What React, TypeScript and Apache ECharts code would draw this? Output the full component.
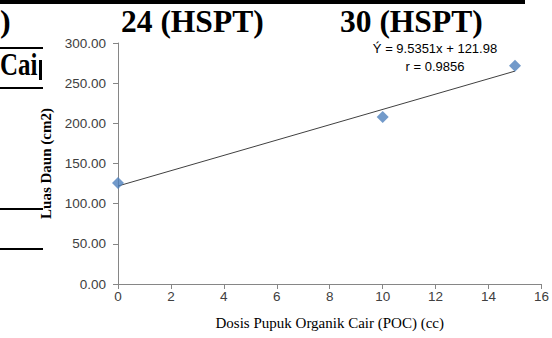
import React, { useEffect, useRef } from "react";
import * as echarts from "echarts";

const doseX = [0, 10, 15];
const leafArea = [125.7, 208, 271.7];
const trendX = [0, 15];
const trendY = [121.98, 265.01];
const equationText = "Ý = 9.5351x + 121.98";
const rText = "r = 0.9856";
const xTitle = "Dosis Pupuk Organik Cair (POC) (cc)";
const yTitle = "Luas Daun (cm2)";
const headA = "24 (HSPT)";
const headB = "30 (HSPT)";

export default function App() {
  const ref = useRef<HTMLDivElement>(null);
  useEffect(() => {
    if (!ref.current) return;
    const chart = echarts.init(ref.current, null, { renderer: "svg" });
    const serif = "'Liberation Serif', 'Times New Roman', serif";
    const sans = "'Liberation Sans', Arial, sans-serif";
    chart.setOption({
      animation: false,
      backgroundColor: "#fff",
      grid: { left: 118, right: 10, top: 43, bottom: 54 },
      xAxis: {
        type: "value",
        min: 0,
        max: 16,
        interval: 2,
        splitLine: { show: false },
        axisLine: { show: true, lineStyle: { color: "#868686", width: 1 } },
        axisTick: { show: true, length: 5, lineStyle: { color: "#868686" } },
        axisLabel: { color: "#404040", fontFamily: sans, fontSize: 13.5, margin: 5 },
        name: xTitle,
        nameLocation: "middle",
        nameGap: 31,
        nameTextStyle: { color: "#000", fontFamily: serif, fontSize: 15 },
      },
      yAxis: {
        type: "value",
        min: 0,
        max: 300,
        interval: 50,
        splitLine: { show: false },
        axisLine: { show: true, lineStyle: { color: "#868686", width: 1 } },
        axisTick: { show: true, length: 5, lineStyle: { color: "#868686" } },
        axisLabel: {
          color: "#404040",
          fontFamily: sans,
          fontSize: 13.5,
          margin: 12,
          formatter: (v: number) => v.toFixed(2),
        },
        name: yTitle,
        nameLocation: "middle",
        nameGap: 62,
        nameTextStyle: { color: "#000", fontFamily: serif, fontSize: 15, fontWeight: "bold" },
      },
      series: [
        {
          type: "line",
          data: trendX.map((x, i) => [x, trendY[i]]),
          symbol: "none",
          lineStyle: { color: "#404040", width: 1 },
          z: 2,
        },
        {
          type: "scatter",
          data: doseX.map((x, i) => [x, leafArea[i]]),
          symbol: "diamond",
          symbolSize: 12,
          itemStyle: { color: "#4F81BD" },
          z: 3,
        },
      ],
      graphic: [
        { type: "rect", shape: { x: 0, y: 0, width: 525, height: 4 }, style: { fill: "#000" } },
        { type: "rect", shape: { x: 0, y: 47, width: 43, height: 2 }, style: { fill: "#000" } },
        { type: "rect", shape: { x: 0, y: 87, width: 43, height: 2 }, style: { fill: "#000" } },
        { type: "rect", shape: { x: 0, y: 208, width: 43, height: 2 }, style: { fill: "#000" } },
        { type: "rect", shape: { x: 0, y: 248, width: 43, height: 2 }, style: { fill: "#000" } },
        {
          type: "text",
          x: 0,
          y: 37,
          style: { text: ")", fill: "#000", font: `bold 32px ${serif}`, textAlign: "left", textVerticalAlign: "bottom" },
        },
        {
          type: "text",
          x: 0,
          y: 80,
          scaleX: 0.78,
          style: { text: "Cai", fill: "#000", font: `bold 32px ${serif}`, textAlign: "left", textVerticalAlign: "bottom" },
        },
        { type: "rect", shape: { x: 39, y: 60, width: 3, height: 20 }, style: { fill: "#000" } },
        {
          type: "text",
          x: 121,
          y: 37,
          style: { text: headA, fill: "#000", font: `bold 31.5px ${serif}`, textAlign: "left", textVerticalAlign: "bottom" },
        },
        {
          type: "text",
          x: 340,
          y: 37,
          style: { text: headB, fill: "#000", font: `bold 31.5px ${serif}`, textAlign: "left", textVerticalAlign: "bottom" },
        },
        {
          type: "text",
          x: 435,
          y: 48,
          style: { text: equationText, fill: "#000", font: `13px ${sans}`, textAlign: "center", textVerticalAlign: "middle" },
        },
        {
          type: "text",
          x: 435,
          y: 66,
          style: { text: rText, fill: "#000", font: `13px ${sans}`, textAlign: "center", textVerticalAlign: "middle" },
        },
      ],
    });
    return () => chart.dispose();
  }, []);
  return <div ref={ref} style={{ width: 552, height: 338, position: "fixed", left: 0, top: 0 }} />;
}
